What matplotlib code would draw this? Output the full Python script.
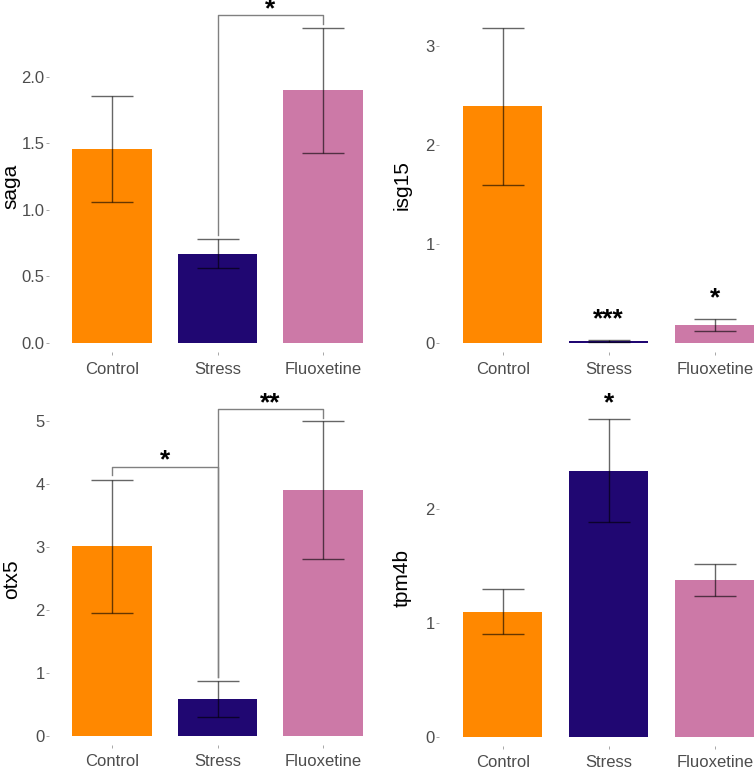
import matplotlib
matplotlib.use("Agg")
import matplotlib.pyplot as plt

plt.rcParams['font.family'] = ['Liberation Sans', 'DejaVu Sans']

groups = ["Control", "Stress", "Fluoxetine"]
colors = ["#FF8800", "#200772", "#CC79A7"]

# mean and error for each gene
saga_mean = [1.46, 0.67, 1.90]
saga_err = [0.40, 0.11, 0.47]
isg15_mean = [2.39, 0.02, 0.18]
isg15_err = [0.79, 0.01, 0.06]
otx5_mean = [3.01, 0.58, 3.91]
otx5_err = [1.06, 0.29, 1.10]
tpm4b_mean = [1.10, 2.34, 1.38]
tpm4b_err = [0.195, 0.45, 0.14]

# significance brackets: (left group, right group, height, label, left leg end, right leg end, label y)
saga_brackets = [(1, 2, 2.466, "*", 0.81, 2.40, 2.505)]
otx5_brackets = [(0, 1, 4.267, "*", 4.14, 0.94, 4.38),
                 (1, 2, 5.19, "**", 0.94, 5.05, 5.29)]
# stars over single bars: (group, y, label)
isg15_stars = [(1, 0.235, "***"), (2, 0.455, "*")]
tpm4b_stars = [(1, 2.935, "*")]

W, H = 755, 769
fig = plt.figure(figsize=(W / 100, H / 100), dpi=100)


def make_ax(left, top, right, bottom):
    return fig.add_axes([left / W, 1 - bottom / H, (right - left) / W, (bottom - top) / H])


def draw(ax, means, errs, ylabel, ylim, yticks, yticklabels, label_xy):
    x = range(len(groups))
    ax.bar(x, means, width=0.75, color=colors, edgecolor="none", zorder=1)
    ax.errorbar(x, means, yerr=errs, fmt="none", ecolor="black", alpha=0.6,
                elinewidth=1.0, capsize=14.8, capthick=1.0, zorder=2)
    ax.set_xlim(-0.6, 2.6)
    ax.set_ylim(*ylim)
    ax.set_xticks(list(x))
    ax.set_xticklabels(groups)
    ax.set_yticks(yticks)
    ax.set_yticklabels(yticklabels)
    for s in ax.spines.values():
        s.set_visible(False)
    ax.tick_params(axis="both", length=2, width=0.6, color="#999999",
                   labelsize=12, labelcolor="#4D4D4D")
    ax.tick_params(axis="x", pad=5)
    ax.tick_params(axis="y", pad=1)
    fig.text(label_xy[0] / W, 1 - label_xy[1] / H, ylabel, rotation=90,
             ha="center", va="center", fontsize=15, color="black")


def brackets(ax, items):
    for a, b, h, lab, la, lb, ty in items:
        ax.plot([a, a, b, b], [la, h, h, lb], color="#808080", lw=1.0, zorder=3, clip_on=False)
        ax.text((a + b) / 2, ty, lab, ha="center", va="center", fontsize=19,
                fontweight="bold", clip_on=False)


def stars(ax, items):
    for g, y, lab in items:
        ax.text(g, y, lab, ha="center", va="center", fontsize=19, fontweight="bold")


ax1 = make_ax(48.7, 5, 386.3, 352)
draw(ax1, saga_mean, saga_err, "saga", (-0.068, 2.541), [0, 0.5, 1, 1.5, 2],
     ["0.0", "0.5", "1.0", "1.5", "2.0"], (11, 186))
brackets(ax1, saga_brackets)

ax2 = make_ax(439.1, 5, 778.3, 352)
draw(ax2, isg15_mean, isg15_err, "isg15", (-0.091, 3.414), [0, 1, 2, 3],
     ["0", "1", "2", "3"], (402, 185))
stars(ax2, isg15_stars)

ax3 = make_ax(48.7, 390, 386.3, 744.7)
draw(ax3, otx5_mean, otx5_err, "otx5", (-0.143, 5.496), [0, 1, 2, 3, 4, 5],
     ["0", "1", "2", "3", "4", "5"], (12, 579))
brackets(ax3, otx5_brackets)

ax4 = make_ax(439.1, 390, 778.3, 745.7)
draw(ax4, tpm4b_mean, tpm4b_err, "tpm4b", (-0.079, 3.049), [0, 1, 2],
     ["0", "1", "2"], (402, 578))
stars(ax4, tpm4b_stars)

fig.savefig("out.png", dpi=100, facecolor="white")
